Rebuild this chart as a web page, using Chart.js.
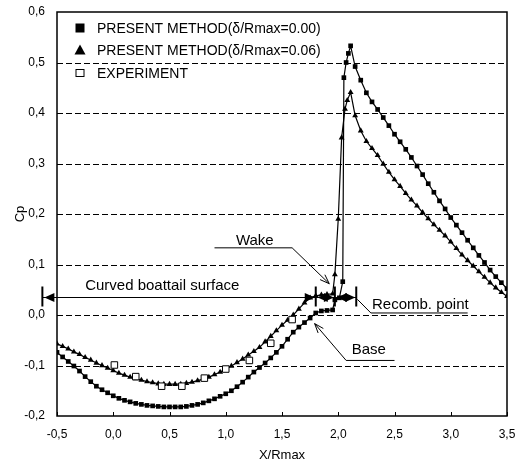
<!DOCTYPE html>
<html>
<head>
<meta charset="utf-8">
<script src="https://cdn.jsdelivr.net/npm/chart.js@4.4.1/dist/chart.umd.min.js"></script>
<style>
html, body { margin: 0; padding: 0; background: #fff; }
</style>
</head>
<body>
<canvas id="chart" width="517" height="465"></canvas>
<script>
// present method, delta/Rmax = 0.00 (filled squares)
const sqX = [
	-0.5, -0.45, -0.4, -0.35, -0.3, -0.25, -0.2, -0.15, -0.1, -0.05,
	0, 0.05, 0.1, 0.15, 0.2, 0.25, 0.3, 0.35, 0.4, 0.45,
	0.5, 0.55, 0.6, 0.65, 0.7, 0.75, 0.8, 0.85, 0.9, 0.95,
	1.0, 1.05, 1.1, 1.15, 1.2, 1.25, 1.3, 1.35, 1.4, 1.45,
	1.5, 1.55, 1.6, 1.65, 1.7, 1.75, 1.8, 1.85, 1.9, 1.95,
	1.97, 2.01, 2.04, 2.05, 2.07, 2.09, 2.11,
	2.15, 2.2, 2.25, 2.3, 2.35, 2.4, 2.45, 2.5, 2.55, 2.6,
	2.65, 2.7, 2.75, 2.8, 2.85, 2.9, 2.95, 3.0, 3.05, 3.1,
	3.15, 3.2, 3.25, 3.3, 3.35, 3.4, 3.45, 3.5,
]
const sqY = [
	-0.074, -0.083, -0.092, -0.101, -0.111, -0.122, -0.132, -0.141, -0.148, -0.154,
	-0.160, -0.165, -0.169, -0.172, -0.175, -0.177, -0.179, -0.180, -0.181, -0.182,
	-0.182, -0.182, -0.182, -0.181, -0.179, -0.177, -0.174, -0.170, -0.166, -0.161,
	-0.156, -0.150, -0.142, -0.133, -0.123, -0.113, -0.104, -0.095, -0.085, -0.074,
	-0.062, -0.048, -0.034, -0.024, -0.015, -0.006, 0.004, 0.008, 0.009, 0.010,
	0.030, 0.034, 0.066, 0.470, 0.500, 0.518, 0.533,
	0.492, 0.465, 0.440, 0.422, 0.407, 0.391, 0.375, 0.358, 0.343, 0.328,
	0.312, 0.295, 0.278, 0.260, 0.243, 0.226, 0.210, 0.193, 0.178, 0.163,
	0.148, 0.133, 0.118, 0.104, 0.089, 0.076, 0.064, 0.052,
]

// present method, delta/Rmax = 0.06 (filled triangles)
const triX = [
	-0.5, -0.45, -0.4, -0.35, -0.3, -0.25, -0.2, -0.15, -0.1, -0.05,
	0, 0.05, 0.1, 0.15, 0.2, 0.25, 0.3, 0.35, 0.4, 0.45,
	0.5, 0.55, 0.6, 0.65, 0.7, 0.75, 0.8, 0.85, 0.9, 0.95,
	1.0, 1.05, 1.1, 1.15, 1.2, 1.25, 1.3, 1.35, 1.4, 1.45,
	1.5, 1.55, 1.6, 1.65, 1.7, 1.75, 1.8, 1.85, 1.9, 1.95,
	1.97, 2.0, 2.03, 2.06, 2.08, 2.11,
	2.15, 2.2, 2.25, 2.3, 2.35, 2.4, 2.45, 2.5, 2.55, 2.6,
	2.65, 2.7, 2.75, 2.8, 2.85, 2.9, 2.95, 3.0, 3.05, 3.1,
	3.15, 3.2, 3.25, 3.3, 3.35, 3.4, 3.45, 3.5,
]
const triY = [
	-0.057, -0.062, -0.067, -0.073, -0.078, -0.084, -0.089, -0.095, -0.100, -0.105,
	-0.110, -0.115, -0.119, -0.123, -0.126, -0.129, -0.132, -0.134, -0.136, -0.137,
	-0.137, -0.137, -0.137, -0.135, -0.133, -0.130, -0.127, -0.123, -0.118, -0.113,
	-0.107, -0.101, -0.094, -0.087, -0.079, -0.072, -0.064, -0.053, -0.042, -0.031,
	-0.020, -0.010, 0.000, 0.012, 0.024, 0.034, 0.038, 0.040, 0.041, 0.042,
	0.080, 0.190, 0.351, 0.408, 0.425, 0.441,
	0.395, 0.365, 0.344, 0.330, 0.316, 0.299, 0.283, 0.268, 0.255, 0.241,
	0.228, 0.216, 0.203, 0.191, 0.179, 0.168, 0.157, 0.145, 0.132, 0.119,
	0.108, 0.097, 0.086, 0.075, 0.064, 0.054, 0.045, 0.037,
]

// experiment (open squares)
const expX = [0.01, 0.2, 0.43, 0.61, 0.81, 1.0, 1.21, 1.40, 1.59]
const expY = [-0.099, -0.122, -0.141, -0.141, -0.125, -0.107, -0.090, -0.056, -0.009]

const seriesNames = ["PRESENT METHOD(δ/Rmax=0.00)", "PRESENT METHOD(δ/Rmax=0.06)", "EXPERIMENT"]

// annotations, in data units
const noteText = ["Curved boattail surface", "Wake", "Recomb. point", "Base"]
const noteX = [-0.25, 1.09, 2.30, 2.12]
const noteY = [0.058, 0.146, 0.020, -0.069]
const dimY = 0.036
const dimTicks = [-0.63, 1.80, 1.97, 2.16]
const wakeLeader = [[0.90, 0.133], [1.59, 0.133], [1.92, 0.062]]
const recombLeader = [[3.15, 0.004], [2.29, 0.004], [2.17, 0.031]]
const baseLeader = [[2.50, -0.090], [2.07, -0.090], [1.79, -0.017]]

const FONT = "'Liberation Sans', Arial, sans-serif"
const fmt = v => v.toFixed(1).replace(".", ",")
const pts = (xs, ys) => xs.map((x, i) => ({ x: x, y: ys[i] }))

function fillHead(ctx, x, y, dir) {
	ctx.beginPath()
	ctx.moveTo(x, y)
	ctx.lineTo(x - dir * 10, y - 4.5)
	ctx.lineTo(x - dir * 10, y + 4.5)
	ctx.closePath()
	ctx.fill()
}

function openHead(ctx, x1, y1, x2, y2) {
	const a = Math.atan2(y2 - y1, x2 - x1)
	ctx.beginPath()
	ctx.moveTo(x2 - 10 * Math.cos(a - 0.35), y2 - 10 * Math.sin(a - 0.35))
	ctx.lineTo(x2, y2)
	ctx.lineTo(x2 - 10 * Math.cos(a + 0.35), y2 - 10 * Math.sin(a + 0.35))
	ctx.stroke()
}

const overlay = {
	id: "overlay",
	beforeDatasetsDraw(chart) {
		const ctx = chart.ctx, a = chart.chartArea, ys = chart.scales.y, xs = chart.scales.x
		ctx.save()
		ctx.strokeStyle = "#000"
		ctx.lineWidth = 1
		ctx.setLineDash([6, 3])
		ys.ticks.forEach(t => {
			if (t.value <= -0.19 || t.value >= 0.59) return
			const y = Math.round(ys.getPixelForValue(t.value)) + 0.5
			ctx.beginPath()
			ctx.moveTo(a.left, y)
			ctx.lineTo(a.right, y)
			ctx.stroke()
		})
		ctx.setLineDash([])
		ctx.lineWidth = 1.5
		ctx.strokeRect(a.left, a.top, a.right - a.left, a.bottom - a.top)
		ctx.lineWidth = 1
		xs.ticks.forEach(t => {
			const x = Math.round(xs.getPixelForValue(t.value)) + 0.5
			ctx.beginPath()
			ctx.moveTo(x, a.bottom)
			ctx.lineTo(x, a.bottom - 4)
			ctx.stroke()
		})
		ctx.restore()
	},
	afterDatasetsDraw(chart) {
		const ctx = chart.ctx, a = chart.chartArea, xs = chart.scales.x, ys = chart.scales.y
		const px = v => xs.getPixelForValue(v), py = v => ys.getPixelForValue(v)
		ctx.save()
		ctx.strokeStyle = "#000"
		ctx.fillStyle = "#000"
		ctx.lineWidth = 1

		// legend
		const lx = a.left + 23, rows = [a.top + 16, a.top + 38, a.top + 61]
		ctx.fillRect(lx - 4.5, rows[0] - 4.5, 9, 9)
		ctx.beginPath()
		ctx.moveTo(lx, rows[1] - 5.5)
		ctx.lineTo(lx + 5.5, rows[1] + 4.5)
		ctx.lineTo(lx - 5.5, rows[1] + 4.5)
		ctx.closePath()
		ctx.fill()
		ctx.strokeRect(lx - 4, rows[2] - 3.5, 8, 7)
		ctx.font = "14px " + FONT
		ctx.textBaseline = "middle"
		ctx.textAlign = "left"
		seriesNames.forEach((n, i) => ctx.fillText(n, lx + 17, rows[i] + 1))

		// dimension line with arrows
		const yd = Math.round(py(dimY)) + 0.5
		ctx.beginPath()
		ctx.moveTo(px(dimTicks[0]), yd)
		ctx.lineTo(px(dimTicks[dimTicks.length - 1]), yd)
		ctx.stroke()
		ctx.lineWidth = 2
		dimTicks.forEach(t => {
			const x = px(t)
			ctx.beginPath()
			ctx.moveTo(x, yd - 11)
			ctx.lineTo(x, yd + 9)
			ctx.stroke()
		})
		ctx.lineWidth = 1
		for (let i = 0; i < dimTicks.length - 1; i++) {
			fillHead(ctx, px(dimTicks[i]) + 2, yd, -1)
			fillHead(ctx, px(dimTicks[i + 1]) - 1, yd, 1)
		}

		// leader lines
		const poly = (p, head) => {
			ctx.beginPath()
			p.forEach((q, i) => i ? ctx.lineTo(px(q[0]), py(q[1])) : ctx.moveTo(px(q[0]), py(q[1])))
			ctx.stroke()
			if (head) {
				const n = p.length
				openHead(ctx, px(p[n - 2][0]), py(p[n - 2][1]), px(p[n - 1][0]), py(p[n - 1][1]))
			}
		}
		poly(wakeLeader, true)
		poly(recombLeader, false)
		poly(baseLeader, true)

		// annotation texts
		ctx.font = "15px " + FONT
		ctx.textBaseline = "middle"
		noteText.forEach((t, i) => ctx.fillText(t, px(noteX[i]), py(noteY[i])))
		ctx.restore()
	},
}

window.onload = () => {
	new Chart(document.getElementById("chart"), {
		type: "scatter",
		data: {
			datasets: [
				{
					label: seriesNames[0],
					data: pts(sqX, sqY),
					showLine: true,
					borderColor: "#000",
					borderWidth: 1.2,
					pointStyle: "rect",
					pointRadius: 3.3,
					pointBackgroundColor: "#000",
					pointBorderColor: "#000",
					pointBorderWidth: 0,
					order: 2,
				},
				{
					label: seriesNames[1],
					data: pts(triX, triY),
					showLine: true,
					borderColor: "#000",
					borderWidth: 1.2,
					pointStyle: "triangle",
					pointRadius: 3.4,
					pointBackgroundColor: "#000",
					pointBorderColor: "#000",
					pointBorderWidth: 0,
					order: 1,
				},
				{
					label: seriesNames[2],
					data: pts(expX, expY),
					showLine: false,
					pointStyle: "rect",
					pointRadius: 4.6,
					pointBackgroundColor: "#fff",
					pointBorderColor: "#000",
					pointBorderWidth: 1,
					order: 0,
				},
			],
		},
		options: {
			responsive: false,
			animation: false,
			layout: { padding: { left: 0, right: 10, top: 12, bottom: 0 } },
			plugins: { legend: { display: false }, tooltip: { enabled: false } },
			scales: {
				x: {
					type: "linear",
					min: -0.5,
					max: 3.5,
					afterFit: s => { s.height = 49; s.paddingLeft = 0; s.paddingRight = 0 },
					grid: { display: false, drawTicks: false },
					border: { display: false },
					ticks: { stepSize: 0.5, padding: 11, color: "#000", font: { family: FONT, size: 12 }, callback: v => fmt(v), maxRotation: 0 },
					title: { display: true, text: "X/Rmax", color: "#000", font: { family: FONT, size: 13 }, padding: { top: 0, bottom: 2 } },
				},
				y: {
					min: -0.2,
					max: 0.6,
					afterFit: s => { s.width = 57; s.paddingTop = 0; s.paddingBottom = 0 },
					grid: { display: false, drawTicks: false },
					border: { display: false },
					ticks: { stepSize: 0.1, padding: 12, color: "#000", font: { family: FONT, size: 12 }, callback: v => fmt(v) },
					title: { display: true, text: "Cp", color: "#000", font: { family: FONT, size: 13 }, padding: { top: 13, bottom: 0 } },
				},
			},
		},
		plugins: [overlay],
	})
}
</script>
</body>
</html>
